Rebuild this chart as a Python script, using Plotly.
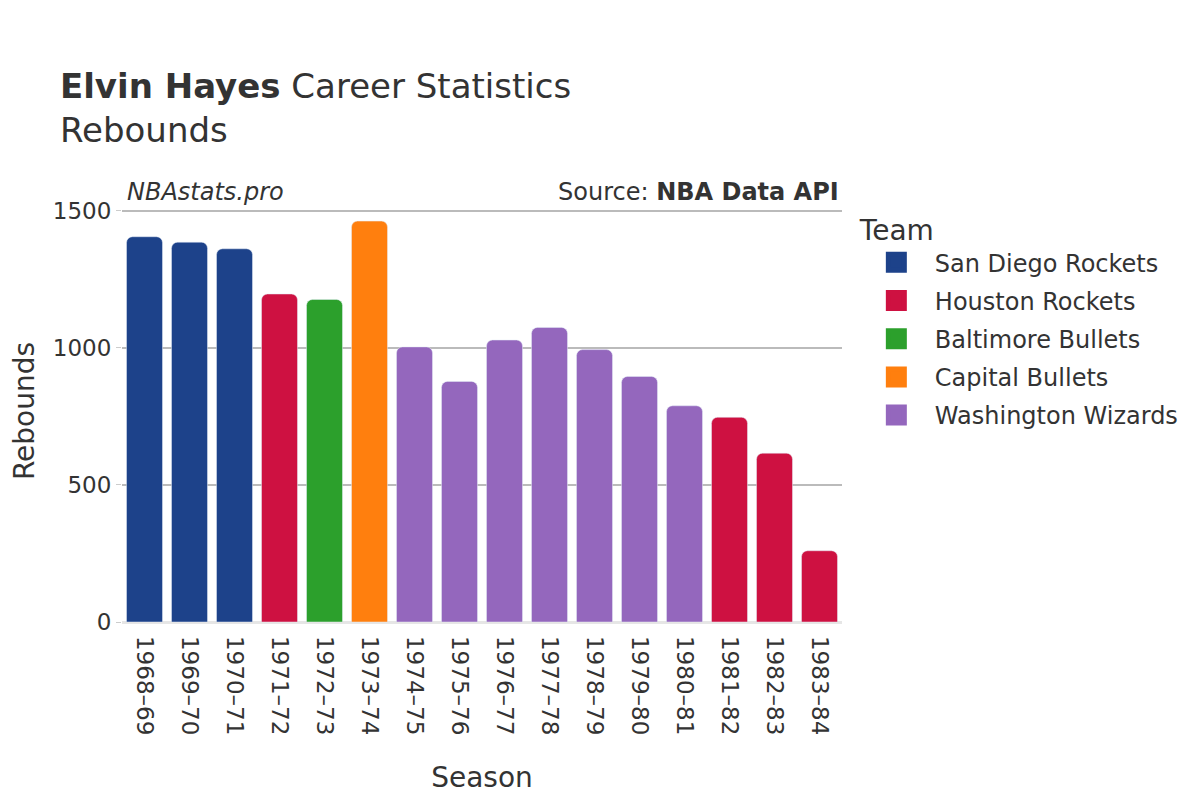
import plotly.graph_objects as go

seasons = ["1968–69", "1969–70", "1970–71", "1971–72", "1972–73", "1973–74", "1974–75", "1975–76",
           "1976–77", "1977–78", "1978–79", "1979–80", "1980–81", "1981–82", "1982–83", "1983–84"]
rebounds = [1406, 1386, 1362, 1197, 1177, 1463, 1004, 878, 1029, 1075, 994, 896, 789, 747, 616, 260]
teams = ["San Diego Rockets", "San Diego Rockets", "San Diego Rockets", "Houston Rockets", "Baltimore Bullets",
         "Capital Bullets", "Washington Wizards", "Washington Wizards", "Washington Wizards", "Washington Wizards",
         "Washington Wizards", "Washington Wizards", "Washington Wizards", "Houston Rockets", "Houston Rockets",
         "Houston Rockets"]
team_order = ["San Diego Rockets", "Houston Rockets", "Baltimore Bullets", "Capital Bullets", "Washington Wizards"]
team_colors = {"San Diego Rockets": "#1d428a", "Houston Rockets": "#ce1141", "Baltimore Bullets": "#2ca02c",
               "Capital Bullets": "#ff7f0e", "Washington Wizards": "#9467bd"}

fig = go.Figure()
for t in team_order:
    xs = [s for s, tm in zip(seasons, teams) if tm == t]
    ys = [r for r, tm in zip(rebounds, teams) if tm == t]
    fig.add_trace(go.Bar(x=xs, y=ys, name=t, marker_color=team_colors[t], showlegend=False, legendgroup=t))
    # legend-only marker with a larger symbol
    fig.add_trace(go.Scatter(x=[None], y=[None], mode="markers", name=t, legendgroup=t,
                             marker=dict(symbol="square", size=16, color=team_colors[t],
                                         line=dict(color=team_colors[t], width=5))))

font = "DejaVu Sans"
fig.update_layout(
    width=1200, height=800,
    font=dict(family=font, color="#333333", size=23),
    plot_bgcolor="white", paper_bgcolor="white",
    barcornerradius=6, bargap=0.2,
    margin=dict(l=114, r=366, t=192, b=186, autoexpand=False),
    title=dict(text="<b>Elvin Hayes</b> Career Statistics<br>Rebounds", x=0.0433, xanchor="left",
               y=0.888, yanchor="top", font=dict(size=34, color="#333333")),
    xaxis=dict(title=dict(text="Season", font=dict(size=28), standoff=33), tickangle=90, automargin=False,
               ticklabelstandoff=13,
               categoryorder="array", categoryarray=seasons, tickfont=dict(size=23)),
    yaxis=dict(title=dict(text="Rebounds", font=dict(size=28), standoff=37), range=[0, 1540], automargin=False,
               ticks="outside", ticklen=5, tickcolor="#cccccc",
               gridcolor="#bbbbbb", gridwidth=1.5, zeroline=True, zerolinecolor="#e6e6e6", zerolinewidth=3,
               tickvals=[0, 500, 1000, 1500], tickfont=dict(size=23)),
    legend=dict(title=dict(text="Team", font=dict(size=28)), font=dict(size=24), x=1.022, y=0.991,
                xanchor="left", yanchor="top", itemsizing="trace", itemwidth=67, tracegroupgap=4),
    annotations=[
        dict(text="<i>NBAstats.pro</i>", x=0.004, xref="paper", y=1.019, yref="paper", xanchor="left",
             yanchor="middle", showarrow=False, font=dict(size=24)),
        dict(text="Source: <b>NBA Data API</b>", x=0.998, xref="paper", y=1.019, yref="paper", xanchor="right",
             yanchor="middle", showarrow=False, font=dict(size=24)),
    ],
)
fig.write_html("out.html")
